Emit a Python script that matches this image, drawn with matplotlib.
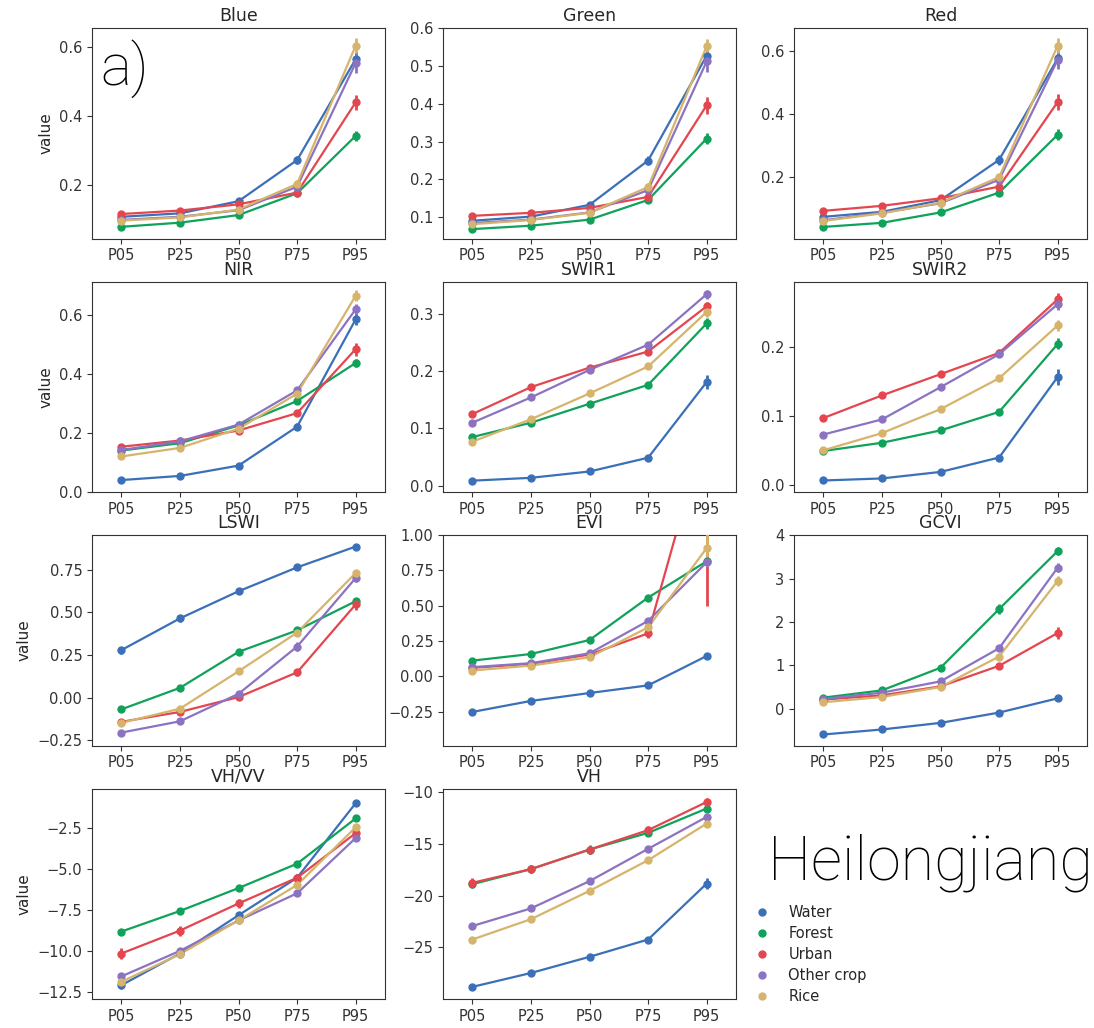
import matplotlib
matplotlib.use('Agg')
import matplotlib.pyplot as plt
from matplotlib.lines import Line2D
import numpy as np

percentiles = ['P05', 'P25', 'P50', 'P75', 'P95']
classes = ['Water', 'Forest', 'Urban', 'Other crop', 'Rice']
colors = ['#3b70b8', '#10a25a', '#e4464f', '#8b73c2', '#d6b46c']

# mean values, one row per class (Water, Forest, Urban, Other crop, Rice)
blue_vals = [[0.109, 0.119, 0.154, 0.273, 0.565],
             [0.080, 0.092, 0.114, 0.177, 0.343],
             [0.117, 0.127, 0.145, 0.179, 0.440],
             [0.100, 0.109, 0.128, 0.196, 0.554],
             [0.098, 0.107, 0.130, 0.204, 0.604]]
green_vals = [[0.091, 0.102, 0.133, 0.250, 0.527],
              [0.069, 0.078, 0.094, 0.146, 0.308],
              [0.104, 0.112, 0.125, 0.154, 0.396],
              [0.085, 0.094, 0.113, 0.172, 0.512],
              [0.082, 0.093, 0.112, 0.180, 0.552]]
red_vals = [[0.072, 0.088, 0.125, 0.253, 0.575],
            [0.040, 0.053, 0.086, 0.149, 0.333],
            [0.091, 0.107, 0.131, 0.168, 0.437],
            [0.061, 0.085, 0.115, 0.190, 0.571],
            [0.059, 0.083, 0.117, 0.198, 0.616]]
nir_vals = [[0.039, 0.053, 0.088, 0.220, 0.584],
            [0.139, 0.164, 0.224, 0.307, 0.436],
            [0.152, 0.173, 0.207, 0.266, 0.483],
            [0.141, 0.170, 0.227, 0.343, 0.618],
            [0.119, 0.148, 0.213, 0.332, 0.664]]
swir1_vals = [[0.009, 0.014, 0.025, 0.049, 0.181],
              [0.085, 0.110, 0.143, 0.176, 0.283],
              [0.125, 0.172, 0.206, 0.234, 0.313],
              [0.110, 0.154, 0.202, 0.246, 0.334],
              [0.077, 0.116, 0.161, 0.208, 0.303]]
swir2_vals = [[0.006, 0.009, 0.0185, 0.0395, 0.157],
              [0.049, 0.061, 0.079, 0.106, 0.205],
              [0.097, 0.130, 0.161, 0.192, 0.270],
              [0.073, 0.095, 0.142, 0.190, 0.263],
              [0.050, 0.075, 0.110, 0.155, 0.232]]
lswi_vals = [[0.279, 0.465, 0.624, 0.764, 0.886],
             [-0.068, 0.058, 0.269, 0.395, 0.566],
             [-0.141, -0.083, 0.004, 0.149, 0.547],
             [-0.204, -0.138, 0.023, 0.300, 0.702],
             [-0.147, -0.064, 0.155, 0.382, 0.731]]
evi_vals = [[-0.251, -0.173, -0.117, -0.063, 0.145],
            [0.112, 0.159, 0.258, 0.558, 0.815],
            [0.061, 0.089, 0.155, 0.305, 1.780],
            [0.066, 0.094, 0.164, 0.393, 0.808],
            [0.042, 0.077, 0.136, 0.347, 0.909]]
gcvi_vals = [[-0.588, -0.473, -0.321, -0.084, 0.244],
             [0.260, 0.427, 0.947, 2.298, 3.634],
             [0.214, 0.313, 0.519, 0.992, 1.748],
             [0.229, 0.374, 0.634, 1.397, 3.252],
             [0.153, 0.275, 0.504, 1.206, 2.947]]
vhvv_vals = [[-12.10, -10.16, -7.82, -5.53, -0.97],
             [-8.82, -7.56, -6.16, -4.67, -1.90],
             [-10.16, -8.76, -7.10, -5.53, -2.80],
             [-11.56, -10.00, -8.14, -6.48, -3.10],
             [-11.89, -10.20, -8.14, -5.97, -2.44]]
vh_vals = [[-28.80, -27.46, -25.90, -24.23, -18.83],
           [-18.89, -17.44, -15.55, -13.94, -11.59],
           [-18.76, -17.44, -15.55, -13.68, -10.96],
           [-22.93, -21.23, -18.60, -15.48, -12.40],
           [-24.23, -22.27, -19.54, -16.58, -13.04]]

# half widths of the error bars
blue_err = [[.003, .003, .005, .012, .020], [.002, .002, .003, .005, .015],
            [.003, .003, .004, .006, .022], [.002, .002, .004, .008, .028],
            [.002, .002, .004, .010, .022]]
green_err = [[.003, .003, .005, .012, .020], [.002, .002, .003, .005, .015],
             [.003, .003, .004, .006, .022], [.002, .002, .004, .008, .028],
             [.002, .002, .004, .010, .020]]
red_err = [[.003, .003, .005, .015, .025], [.002, .002, .003, .006, .018],
           [.003, .003, .005, .008, .025], [.002, .003, .004, .008, .030],
           [.002, .003, .004, .010, .025]]
nir_err = [[.003, .003, .005, .012, .020], [.003, .003, .004, .008, .014],
           [.004, .004, .005, .008, .022], [.003, .003, .004, .008, .018],
           [.003, .003, .004, .008, .018]]
swir1_err = [[.001, .001, .002, .005, .013], [.002, .002, .003, .005, .010],
             [.003, .003, .004, .005, .008], [.003, .003, .004, .005, .008],
             [.002, .002, .003, .004, .008]]
swir2_err = [[.001, .001, .002, .004, .012], [.002, .002, .002, .004, .008],
             [.003, .003, .004, .005, .010], [.002, .002, .003, .004, .008],
             [.002, .002, .003, .004, .008]]
lswi_err = [[.020, .020, .015, .012, .006], [.010, .015, .015, .012, .010],
            [.010, .012, .012, .020, .030], [.008, .010, .015, .025, .025],
            [.008, .010, .012, .015, .012]]
evi_err = [[.010, .008, .008, .008, .020], [.006, .006, .008, .020, .020],
           [.006, .006, .010, .030, 1.280], [.006, .006, .010, .020, .030],
           [.006, .006, .008, .020, .130]]
gcvi_err = [[.02, .02, .02, .02, .03], [.02, .03, .05, .12, .10],
            [.02, .02, .03, .06, .13], [.02, .02, .03, .07, .10],
            [.02, .02, .03, .08, .12]]
vhvv_err = [[.20, .20, .20, .20, .20], [.08, .10, .10, .10, .10],
            [.35, .30, .30, .20, .15], [.20, .15, .15, .15, .15],
            [.20, .15, .15, .15, .15]]
vh_err = [[.20, .20, .25, .20, .50], [.30, .20, .20, .20, .20],
          [.50, .40, .40, .40, .35], [.20, .20, .20, .20, .20],
          [.15, .15, .15, .15, .15]]

panels = [
    ('Blue', blue_vals, blue_err, (0.046, 0.655), [0.2, 0.4, 0.6]),
    ('Green', green_vals, green_err, (0.044, 0.6), [0.1, 0.2, 0.3, 0.4, 0.5, 0.6]),
    ('Red', red_vals, red_err, (0.003, 0.672), [0.2, 0.4, 0.6]),
    ('NIR', nir_vals, nir_err, (-0.002, 0.712), [0.0, 0.2, 0.4, 0.6]),
    ('SWIR1', swir1_vals, swir1_err, (-0.011, 0.356), [0.0, 0.1, 0.2, 0.3]),
    ('SWIR2', swir2_vals, swir2_err, (-0.011, 0.296), [0.0, 0.1, 0.2]),
    ('LSWI', lswi_vals, lswi_err, (-0.281, 0.953), [-0.25, 0.0, 0.25, 0.5, 0.75]),
    ('EVI', evi_vals, evi_err, (-0.49, 1.0), [-0.25, 0.0, 0.25, 0.5, 0.75, 1.0]),
    ('GCVI', gcvi_vals, gcvi_err, (-0.847, 4.0), [0, 1, 2, 3, 4]),
    ('VH/VV', vhvv_vals, vhvv_err, (-12.96, -0.086), [-12.5, -10.0, -7.5, -5.0, -2.5]),
    ('VH', vh_vals, vh_err, (-30.0, -9.68), [-25, -20, -15, -10]),
]

plt.rcParams['axes.edgecolor'] = '#333333'
plt.rcParams['xtick.color'] = '#333333'
plt.rcParams['ytick.color'] = '#333333'
plt.rcParams['text.color'] = '#262626'
plt.rcParams['axes.labelcolor'] = '#262626'
plt.rcParams['xtick.labelsize'] = 10.5
plt.rcParams['ytick.labelsize'] = 10.5

fig, axes = plt.subplots(4, 3, figsize=(10.94, 10.28), dpi=100)
fig.subplots_adjust(left=0.0841, right=0.9936, top=0.9728, bottom=0.0279,
                    wspace=0.198, hspace=0.204)

for idx, (name, vals, errs, ylim, yticks) in enumerate(panels):
    ax = axes.flat[idx]
    for c in range(len(classes)):
        v = np.array(vals[c])
        e = np.array(errs[c])
        ax.plot(percentiles, v, '-', color=colors[c], lw=1.6, zorder=2)
        ax.vlines(percentiles, v - e, v + e, color=colors[c], lw=2.0, zorder=3)
        ax.plot(percentiles, v, 'o', color=colors[c], ms=5, zorder=4)
    ax.set_xlim(-0.5, 4.5)
    ax.set_ylim(*ylim)
    ax.set_yticks(yticks)
    ax.set_title(name, fontsize=12.5, pad=5)
    if idx % 3 == 0:
        ax.set_ylabel('value', fontsize=11)

axes[3, 2].axis('off')

# big labels drawn in a light sans
big_font = ['Roboto', 'DejaVu Sans']
axes[0, 0].text(0.027, 0.729, 'a)', transform=axes[0, 0].transAxes,
                fontsize=42, family=big_font, fontweight='light', va='baseline',
                color='black')
fig.text(0.702, 0.144, 'Heilongjiang', fontsize=44, family=big_font,
         fontweight='light', va='baseline', color='black')

handles = [Line2D([], [], marker='o', ls='', color=c, ms=5) for c in colors]
fig.legend(handles, classes, loc='upper left', bbox_to_anchor=(0.678, 0.1255),
           frameon=False, fontsize=10.5, labelspacing=0.42, borderaxespad=0)

fig.savefig('out.png', dpi=100)
